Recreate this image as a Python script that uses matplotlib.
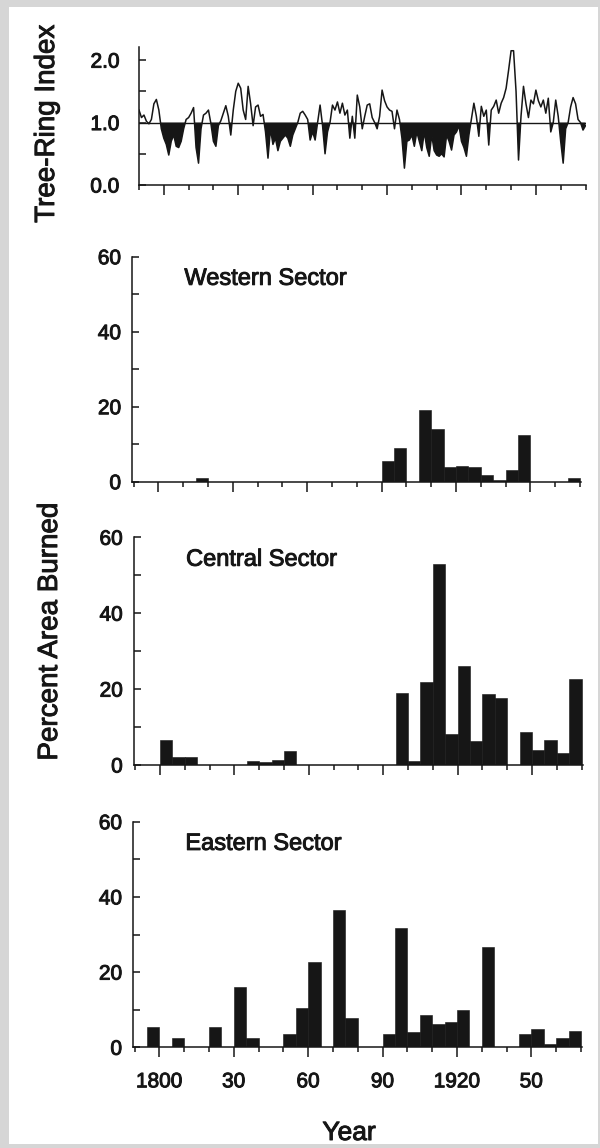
import matplotlib
matplotlib.use("Agg")
import matplotlib.pyplot as plt
import matplotlib.patheffects as pe
from matplotlib.patches import Rectangle
from matplotlib.ticker import FixedLocator, NullFormatter
import numpy as np

plt.rcParams['font.family'] = ['Liberation Sans', 'DejaVu Sans']

# ---- tree-ring index, annual values 1790-1970 ----
ring_years = list(range(1790, 1971))
ring_index = [
    1.20, 1.08, 1.12, 1.02, 0.98, 1.05, 1.30, 1.37, 1.20, 0.90,   # 1790s
    0.75, 0.65, 0.48, 0.70, 0.80, 0.62, 0.60, 0.70, 0.90, 1.05,   # 1800s
    1.08, 1.15, 1.24, 0.60, 0.35, 0.90, 1.12, 1.15, 1.20, 0.98,   # 1810s
    0.70, 0.62, 0.95, 1.03, 1.15, 1.27, 1.10, 0.80, 1.20, 1.50,   # 1820s
    1.63, 1.55, 1.20, 1.05, 1.58, 1.30, 0.95, 1.25, 1.28, 1.10,   # 1830s
    1.13, 0.85, 0.43, 0.90, 0.65, 0.75, 0.55, 0.70, 0.75, 0.80,   # 1840s
    0.75, 0.62, 0.80, 0.90, 1.00, 1.15, 1.18, 1.12, 1.05, 0.72,   # 1850s
    0.85, 0.72, 1.00, 1.28, 0.95, 0.50, 0.85, 1.00, 1.28, 1.20,   # 1860s
    1.33, 1.15, 1.31, 1.12, 1.20, 0.75, 1.10, 0.75, 1.44, 1.25,   # 1870s
    0.90, 1.10, 1.28, 1.30, 1.08, 1.00, 0.90, 1.10, 1.52, 1.35,   # 1880s
    1.25, 1.20, 1.18, 0.90, 1.20, 1.05, 0.75, 0.27, 0.70, 0.72,   # 1890s
    0.80, 0.62, 0.85, 0.70, 0.55, 0.85, 0.60, 0.46, 0.80, 0.55,   # 1900s
    0.48, 0.46, 0.50, 0.45, 0.80, 0.70, 0.56, 0.80, 0.85, 0.95,   # 1910s
    0.70, 0.60, 0.46, 0.80, 1.05, 1.31, 1.10, 0.78, 1.26, 1.10,   # 1920s
    1.20, 0.64, 1.20, 1.26, 1.36, 1.15, 1.31, 1.40, 1.55, 1.84,   # 1930s
    2.15, 2.15, 1.50, 0.40, 1.10, 1.58, 1.30, 1.08, 1.36, 1.30,   # 1940s
    1.52, 1.35, 1.25, 1.36, 1.15, 1.39, 0.85, 1.00, 1.36, 1.10,   # 1950s
    0.70, 0.35, 0.90, 1.00, 1.25, 1.40, 1.30, 1.05, 1.00, 0.88,   # 1960s
    0.95,                                                         # 1970
]

# ---- percent area burned, 5-year classes (class start year) ----
class_start = list(range(1795, 1970, 5))
western = [0, 0, 0, 0, 1.0, 0, 0, 0, 0, 0, 0, 0, 0, 0, 0, 0, 0, 0, 0,
           5.6, 9.0, 0, 19.0, 14.0, 3.8, 4.3, 3.8, 1.7, 0.5, 3.0, 12.5,
           0, 0, 0, 1.0]
central = [0, 6.5, 2.0, 2.0, 0, 0, 0, 0, 1.0, 0.8, 1.3, 3.8, 0, 0, 0, 0,
           0, 0, 0, 0, 19.0, 1.0, 22.0, 53.0, 8.3, 26.0, 6.2, 18.6, 17.6,
           0, 8.6, 4.0, 6.6, 3.1, 22.7]
eastern = [5.5, 0, 2.4, 0, 0, 5.3, 0, 16.0, 2.5, 0, 0, 3.5, 10.4, 22.8, 0,
           36.5, 7.7, 0, 0, 3.5, 31.6, 4.0, 8.6, 6.1, 6.6, 9.8, 0, 26.8, 0,
           0, 3.5, 4.8, 0.8, 2.6, 4.4]

sectors = [("Western Sector", western),
           ("Central Sector", central),
           ("Eastern Sector", eastern)]

year_major = [1800, 1830, 1860, 1890, 1920, 1950]
year_major_labels = ["1800", "30", "60", "90", "1920", "50"]
year_minor = list(range(1790, 1971, 10))

INK = "#161616"
W, H = 600, 1148
HEAVY = [pe.withStroke(linewidth=0.7, foreground=INK)]

fig = plt.figure(figsize=(W / 100, H / 100), dpi=100)
fig.patch.set_facecolor("#d6d6d6")
# white sheet inside the grey border
fig.patches.append(Rectangle((9 / W, 4 / H), 589 / W, 1137 / H,
                             transform=fig.transFigure,
                             facecolor="white", edgecolor="none",
                             zorder=-10))


def px_axes(left, top, right, bottom):
    return fig.add_axes([left / W, 1 - bottom / H,
                         (right - left) / W, (bottom - top) / H])


def style_axes(ax):
    for s in ("top", "right"):
        ax.spines[s].set_visible(False)
    for s in ("left", "bottom"):
        ax.spines[s].set_linewidth(1.1)
        ax.spines[s].set_color(INK)
    ax.set_facecolor("none")
    ax.xaxis.set_major_locator(FixedLocator(year_major))
    ax.xaxis.set_minor_locator(FixedLocator(year_minor))
    ax.tick_params(axis="x", which="major", direction="out", length=7,
                   width=1.1, color=INK)
    ax.tick_params(axis="x", which="minor", direction="out", length=3.5,
                   width=1.1, color=INK)
    ax.tick_params(axis="y", which="both", direction="in", width=1.1,
                   color=INK, labelcolor=INK)
    ax.tick_params(axis="y", which="major", length=5)
    ax.tick_params(axis="y", which="minor", length=5)


def heavy_labels(ax):
    for lab in ax.get_xticklabels() + ax.get_yticklabels():
        lab.set_path_effects(HEAVY)


# ---- tree-ring panel ----
ax0 = px_axes(139, 47, 585.5, 185)
style_axes(ax0)
yr = np.array(ring_years)
ri = np.array(ring_index)
ax0.fill_between(yr, ri, 1.0, where=ri < 1.0, interpolate=True,
                 color=INK, linewidth=0)
ax0.plot(yr, ri, color=INK, lw=1.1)
ax0.axhline(1.0, color=INK, lw=1.0)
ax0.set_xlim(1790, 1970)
ax0.set_ylim(0, 2.21)
ax0.yaxis.set_major_locator(FixedLocator([0, 1, 2]))
ax0.yaxis.set_minor_locator(FixedLocator([0.5, 1.5]))
ax0.set_yticklabels(["0.0", "1.0", "2.0"], fontsize=15)
ax0.tick_params(axis="y", pad=14)
ax0.xaxis.set_major_formatter(NullFormatter())
heavy_labels(ax0)

# ---- burned-area panels ----
panel_px = [(132.3, 256.7, 581.2, 481.7),
            (134.0, 537.3, 582.9, 765.0),
            (133.3, 821.7, 582.2, 1047.3)]

for i, ((title, vals), box) in enumerate(zip(sectors, panel_px)):
    ax = px_axes(*box)
    style_axes(ax)
    ax.bar(class_start, vals, width=5, align="edge", color=INK,
           edgecolor=INK, linewidth=0.4)
    ax.set_xlim(1789.5, 1970.5)
    ax.set_ylim(0, 60)
    ax.yaxis.set_major_locator(FixedLocator([0, 20, 40, 60]))
    ax.yaxis.set_minor_locator(FixedLocator([10, 30, 50]))
    ax.set_yticklabels(["0", "20", "40", "60"], fontsize=15)
    ax.tick_params(axis="y", pad=8)
    ax.text(1810.5, 52.5, title, fontsize=17, color=INK,
            ha="left", va="baseline", path_effects=HEAVY)
    if i == 2:
        ax.set_xticklabels(year_major_labels, fontsize=15, color=INK)
        ax.tick_params(axis="x", which="major", pad=11)
    else:
        ax.xaxis.set_major_formatter(NullFormatter())
    heavy_labels(ax)

fig.text(47 / W, 1 - 124 / H, "Tree-Ring Index", rotation=90,
         fontsize=20, color=INK, ha="center", va="center",
         path_effects=HEAVY)
fig.text(50 / W, 1 - 632 / H, "Percent Area Burned", rotation=90,
         fontsize=20, color=INK, ha="center", va="center",
         path_effects=HEAVY)
fig.text(349 / W, 1 - 1140 / H, "Year", fontsize=19, color=INK,
         ha="center", va="baseline", path_effects=HEAVY)

fig.savefig("out.png", dpi=100, facecolor=fig.get_facecolor())
